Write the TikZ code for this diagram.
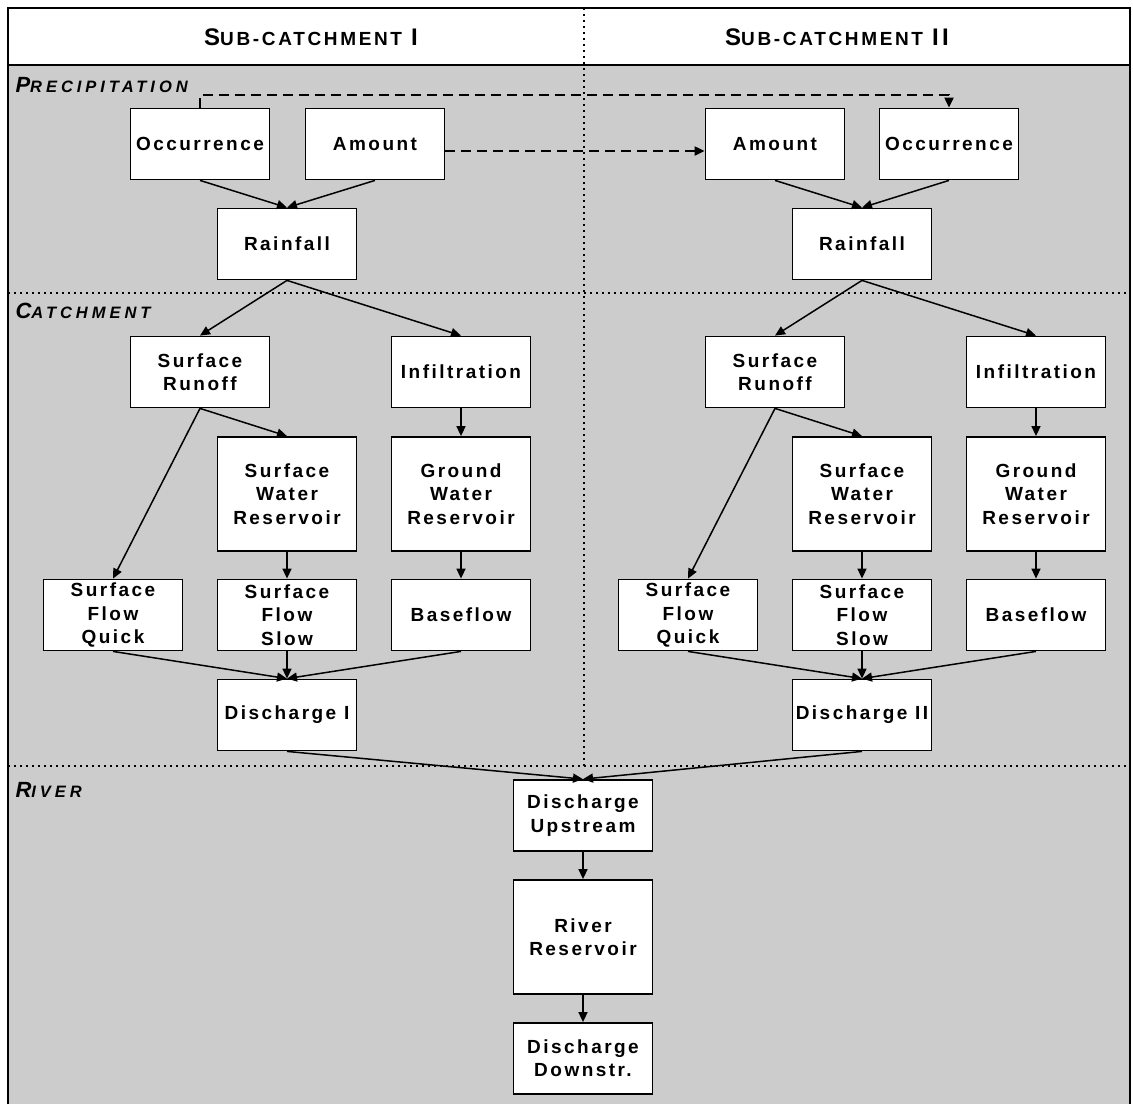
\documentclass[tikz,border=0pt]{standalone}
\usepackage{fontspec}
\setmainfont{Liberation Sans}
\newfontfamily\boxfont[LetterSpace=13]{Liberation Sans Bold}
\newfontfamily\headfont[LetterSpace=14]{Liberation Sans Bold}
\newfontfamily\sectfont[LetterSpace=24]{Liberation Sans Bold Italic}
\usepackage{tikz}
\usetikzlibrary{
  arrows.meta,
  positioning
}
\definecolor{bggray}{RGB}{204,204,204}
\newcommand{\capfirst}[4]{{\fontsize{#1}{#1}\selectfont #3}{\fontsize{#2}{#2}\selectfont #4}}

\begin{document}
\begin{tikzpicture}[x=1pt, y=-1pt,
			proc/.style={draw, line width=1.8pt, fill=white, align=center,
				minimum width=139pt, minimum height=71pt, inner sep=0pt,
				font=\boxfont\fontsize{19}{23.3}\selectfont},
			tallproc/.style={proc, minimum height=114pt},
			ed/.style={line width=1.5pt, -{Triangle[length=10pt,width=9pt]}},
			dsh/.style={ed, line width=2pt, dash pattern=on 10pt off 6pt},
			sep/.style={line width=1.8pt, dash pattern=on 2pt off 4pt},
			hdr/.style={font=\headfont},
			sect/.style={anchor=west, font=\sectfont}
			]
			\useasboundingbox (0,0) rectangle (1133,1104);
			% frame and bands
			\fill[bggray] (8,65) rectangle (1130,1104);
			\draw[line width=2pt] (8,1104) -- (8,8) -- (1130,8) -- (1130,1104);
			\draw[line width=1.6pt] (8,65) -- (1130,65);
			\draw[sep] (584,8) -- (584,766);
			\draw[sep] (8,293) -- (1130,293);
			\draw[sep] (8,766) -- (1130,766);
			\node[hdr] (hdrI)  at (311,37.5) {\capfirst{24}{19}{S}{UB-CATCHMENT}\hspace{9pt}\capfirst{24}{19}{I}{}};
			\node[hdr] (hdrII) at (837,37.5) {\capfirst{24}{19}{S}{UB-CATCHMENT}\hspace{9pt}\capfirst{24}{19}{II}{}};
			\node[sect] (precip) at (12,85)  {\capfirst{22}{16.5}{P}{RECIPITATION}};
			\node[sect] (catch)  at (12,311) {\capfirst{22}{16.5}{C}{ATCHMENT}};
			\node[sect] (river)  at (12,790) {\capfirst{22}{16.5}{R}{IVER}};
			% sub-catchment I
			\node[proc] (occI)  at (200,144) {Occurrence};
			\node[proc] (amtI)  at (375,144) {Amount};
			\node[proc] (rainI) at (287,244) {Rainfall};
			\node[proc] (runI)  at (200,372) {Surface\\Runoff};
			\node[proc] (infI)  at (461,372) {Infiltration};
			\node[tallproc] (swrI) at (287,494) {Surface\\Water\\Reservoir};
			\node[tallproc] (gwrI) at (461,494) {Ground\\Water\\Reservoir};
			\node[proc] (sfqI)  at (113,615) {Surface\\Flow\\Quick};
			\node[proc] (sfsI)  at (287,615) {Surface\\Flow\\Slow};
			\node[proc] (baseI) at (461,615) {Baseflow};
			\node[proc] (disI)  at (287,715) {Discharge I};
			% sub-catchment II
			\node[proc] (amtII)  at (775,144) {Amount};
			\node[proc] (occII)  at (949,144) {Occurrence};
			\node[proc] (rainII) at (862,244) {Rainfall};
			\node[proc] (runII)  at (775,372) {Surface\\Runoff};
			\node[proc] (infII)  at (1036,372) {Infiltration};
			\node[tallproc] (swrII) at (862,494) {Surface\\Water\\Reservoir};
			\node[tallproc] (gwrII) at (1036,494) {Ground\\Water\\Reservoir};
			\node[proc] (sfqII)  at (688,615) {Surface\\Flow\\Quick};
			\node[proc] (sfsII)  at (862,615) {Surface\\Flow\\Slow};
			\node[proc] (baseII) at (1036,615) {Baseflow};
			\node[proc] (disII)  at (862,715) {Discharge II};
			% river
			\node[proc] (upstr)  at (583,815.5) {Discharge\\Upstream};
			\node[tallproc] (resv) at (583,937) {River\\Reservoir};
			\node[proc] (dnstr)  at (583,1058.5) {Discharge\\Downstr.};
			% precipitation links between the sub-catchments
			\draw[dsh] (occI.north) -- ++(0,-13) -| (occII.north);
			\draw[dsh] ([yshift=-7pt]amtI.east) -- ([yshift=-7pt]amtII.west);
			% flows in sub-catchment I
			\draw[ed] (occI.south)--(rainI.north); \draw[ed] (amtI.south)--(rainI.north);
			\draw[ed] (rainI.south)--(runI.north); \draw[ed] (rainI.south)--(infI.north);
			\draw[ed] (runI.south)--(swrI.north); \draw[ed] (runI.south)--(sfqI.north);
			\draw[ed] (infI)--(gwrI); \draw[ed] (swrI)--(sfsI); \draw[ed] (gwrI)--(baseI);
			\draw[ed] (sfqI.south)--(disI.north); \draw[ed] (sfsI.south)--(disI.north);
			\draw[ed] (baseI.south)--(disI.north);
			% flows in sub-catchment II
			\draw[ed] (amtII.south)--(rainII.north); \draw[ed] (occII.south)--(rainII.north);
			\draw[ed] (rainII.south)--(runII.north); \draw[ed] (rainII.south)--(infII.north);
			\draw[ed] (runII.south)--(swrII.north); \draw[ed] (runII.south)--(sfqII.north);
			\draw[ed] (infII)--(gwrII); \draw[ed] (swrII)--(sfsII); \draw[ed] (gwrII)--(baseII);
			\draw[ed] (sfqII.south)--(disII.north); \draw[ed] (sfsII.south)--(disII.north);
			\draw[ed] (baseII.south)--(disII.north);
			% river routing
			\draw[ed] (disI.south)--(upstr.north); \draw[ed] (disII.south)--(upstr.north);
			\draw[ed] (upstr)--(resv); \draw[ed] (resv)--(dnstr);
\end{tikzpicture}
\end{document}
